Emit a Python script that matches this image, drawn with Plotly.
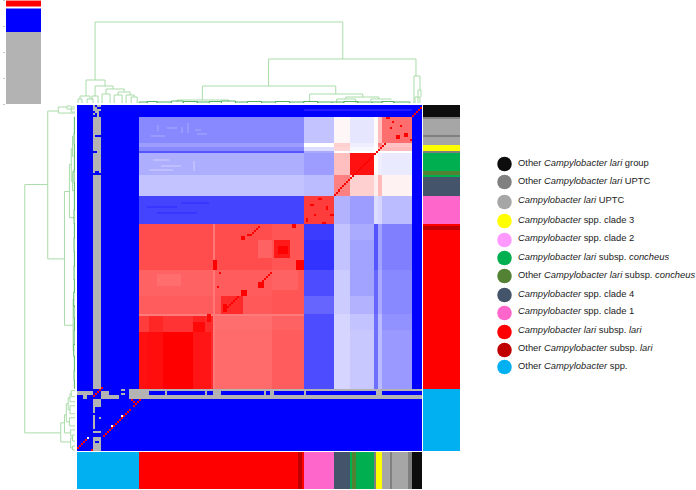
import numpy as np
import plotly.graph_objects as go

# ---------- data ----------
N = 172
NA = 0
B = 85
col_edges = [0, 8, 12, 31, 68, 97, 113, 128, 136, 148, 150, 152, 167, 172]
row_edges = [0, 6, 19, 21, 23, 24, 35, 45, 59, 67, 82, 95, 104, 112, 141, 142, 144, 146, 172]
block_values = [
    [B, NA, B, B, B, B, B, B, B, B, B, B, B],
    [B, NA, B, 92.6, 92.6, 92.6, 93.3, 94.1, 93.7, 94.05, 94.75, 95.7, B],
    [B, NA, B, 92.85, 92.85, 92.85, 94.0, 94.55, 93.8, 94.0, 95.5, 94.7, B],
    [B, NA, B, 92.6, 92.6, 92.6, 93.6, 94.5, 93.9, 94.0, 94.8, 94.8, B],
    [B, NA, B, 92.0, 92.0, 92.0, 93.0, 94.0, 94.0, 94.0, 94.0, 94.0, B],
    [B, NA, B, 93.05, 93.05, 93.05, 92.85, 94.75, 96.8, 94.0, 93.8, 93.75, B],
    [B, NA, B, 93.3, 93.3, 93.3, 93.2, 95.5, 94.55, 94.2, 94.8, 94.15, B],
    [B, NA, B, 91.8, 91.8, 91.8, 96.3, 93.1, 92.85, 93.6, 93.5, 93.2, B],
    [B, NA, B, 96.1, 96.1, 96.0, 91.7, 93.3, 93.0, 92.0, 92.9, 92.5, B],
    [B, NA, B, 96.1, 96.1, 96.0, 91.6, 93.3, 92.9, 92.0, 92.9, 92.5, B],
    [B, NA, B, 95.85, 95.9, 96.0, 91.9, 93.4, 92.9, 92.2, 93.0, 92.6, B],
    [B, NA, B, 95.9, 95.95, 96.0, 92.2, 93.4, 93.1, 92.2, 93.0, 92.6, B],
    [B, NA, B, 96.6, 95.7, 95.85, 91.9, 93.5, 93.3, 92.3, 93.2, 92.7, B],
    [B, NA, B, 96.9, 95.75, 95.9, 91.9, 93.5, 93.35, 92.3, 93.2, 92.8, B],
    [B, B, B, NA, NA, NA, NA, NA, NA, NA, NA, NA, NA],
    [NA, B, B, B, B, B, B, B, B, B, B, B, B],
    [B, B, B, NA, NA, NA, NA, NA, NA, NA, NA, NA, NA],
    [B, B, B, B, B, B, B, B, B, B, B, B, B],
]
# detail cells: first row, last row, first column, last column, value
detail_cells = [
    (10, 13, 40, 41, 92.8), (9, 14, 55, 56, 92.8), (11, 12, 45, 50, 92.8), (14, 15, 60, 65, 92.8),
    (11, 14, 52, 53, 92.8), (15, 16, 37, 44, 92.8), (12, 13, 59, 62, 92.8),
    (27, 28, 38, 46, 93.25), (30, 31, 42, 52, 93.25), (32, 33, 36, 48, 93.25), (28, 33, 58, 59, 93.25),
    (50, 51, 35, 50, 91.65), (53, 54, 40, 60, 91.65), (48, 49, 52, 66, 91.65),
    (67, 76, 90, 97, 95.85), (82, 92, 97, 110, 95.85), (84, 90, 40, 52, 95.72),
    (0, 1, 9, 10, B), (1, 2, 10, 12, B), (3, 4, 8, 9, B), (3, 6, 11, 12, B),
    (4, 5, 9, 10, B), (5, 6, 8, 10, B), (15, 16, 9, 12, B), (23, 24, 8, 10, B),
    (33, 34, 9, 11, B), (34, 35, 8, 12, B), (2, 3, 113, 167, 91.35),
    (142, 144, 12, 16, NA), (144, 146, 12, 21, NA), (141, 142, 22, 24, NA), (143, 144, 22, 24, NA),
    (141, 146, 26, 36, NA), (144, 146, 3, 5, NA),
    (142, 144, 44, 45, NA), (142, 144, 64, 65, NA), (142, 144, 68, 72, NA), (142, 144, 93, 94, NA),
    (142, 144, 96, 98, NA), (142, 144, 113, 114, NA), (142, 144, 149, 152, NA),
    (146, 150, 8, 12, NA), (150, 153, 8, 9, NA), (154, 161, 8, 9, NA), (155, 156, 11, 12, NA),
    (162, 163, 8, 12, NA), (165, 172, 8, 12, NA), (167, 168, 9, 11, B),
    (104, 113, 31, 36, 96.3), (104, 113, 36, 43, 96.55), (104, 113, 43, 58, 96.4),
    (108, 113, 58, 64, 96.9), (104, 113, 64, 68, 96.5),
    (113, 141, 31, 35, 96.8), (113, 141, 35, 43, 96.85), (113, 141, 43, 58, 97.0),
    (113, 141, 58, 67, 96.75), (113, 141, 67, 68, 96.5),
    (59, 141, 68, 69, 95.6), (104, 105, 31, 113, 95.55), (104, 108, 65, 67, 96.9),
    (67, 76, 98, 106, 96.7), (70, 74, 100, 105, 97.0), (77, 82, 109, 113, 97.0),
    (88, 91, 90, 93, 97.0), (92, 95, 82, 85, 97.0), (95, 104, 72, 83, 96.5),
    (99, 103, 73, 75, 97.0), (77, 82, 68, 70, 97.0), (83, 84, 71, 72, 97.0), (90, 91, 70, 71, 97.0),
    (65, 67, 82, 84, 97.0), (64, 65, 85, 87, 97.0), (59, 61, 107, 109, 97.0),
    (6, 7, 154, 156, 97.0), (8, 9, 157, 158, 97.0), (11, 12, 156, 157, 97.0), (10, 11, 161, 162, 97.0),
    (14, 16, 163, 165, 97.0), (15, 17, 159, 161, 97.0), (17, 18, 166, 167, 97.0),
    (46, 47, 120, 122, 97.0), (49, 50, 116, 118, 97.0), (50, 52, 124, 125, 97.0), (54, 55, 126, 128, 97.0),
    (56, 58, 114, 115, 97.0), (58, 59, 122, 124, 97.0), (54, 55, 118, 119, 97.0),
    (146, 147, 27, 28, 100), (147, 148, 28, 29, 100),
]
# runs of self comparisons: first column, first row, length
self_runs = [
    (0, 170, 6), (6, 172, 2), (8, 144, 5), (13, 164, 14), (28, 149, 4),
    (128, 44, 19), (148, 24, 6), (167, 5, 5), (73, 102, 8), (90, 89, 7), (87, 63, 4),
]
pale_cells = [(165, 5), (159, 17), (154, 22)]

group_names = ["other", "lari_other_upt", "lari_upt", "clade3", "concheus", "other_concheus",
               "clade4", "clade1", "lari", "other_lari", "other_lari_dark"]
group_colors = ["#00b0f0", "#808080", "#a6a6a6", "#ffff00", "#00b050", "#548235",
                "#44546a", "#ff66cc", "#ff0000", "#c00000", "#0d0d0d"]
bottom_groups = [0, 8, 9, 8, 7, 6, 4, 5, 4, 1, 3, 2, 1, 2, 1, 10]
bottom_sizes = [31, 79, 2, 1, 15, 8, 1, 2, 9, 1, 3, 4, 1, 8, 2, 5]
right_groups = [10, 1, 2, 1, 2, 3, 1, 4, 5, 4, 6, 7, 8, 9, 8, 0]
right_sizes = [6, 1, 8, 1, 4, 3, 1, 9, 2, 1, 9, 14, 1, 2, 79, 31]

# dendrogram merges: left leaf, right leaf, height, left child height, right child height
merge_left = [9, 4.5, 1.5, 9, 14.5, 20.5, 0.5, 5, 7.5, 12.5, 18.5, 24.5, 27,
              95.5, 62.5, 50, 116, 134, 129.5, 146.5, 168, 170, 168.5]
merge_right = [132.5, 14, 6.5, 18, 23.5, 26.5, 2.5, 8, 10.5, 16.5, 22.5, 28.5, 30,
               169, 129, 75.5, 142.5, 150.5, 139, 156.5, 171, 171.5, 171]
merge_height = [81, 23, 7, 17, 14, 11, 4, 4, 7, 9, 8, 8, 6,
                44, 17, 3, 9, 6, 4, 4, 27, 13, 6]
merge_left_child = [23, 7, 4, 7, 9, 8, 0, 0, 3, 0, 0, 0, 0,
                    17, 3, 1, 1, 4, 0, 2, 0, 0, 0]
merge_right_child = [44, 17, 4, 14, 11, 8, 0, 0, 0, 0, 0, 6, 0,
                     27, 9, 1, 6, 4, 0, 3, 13, 6, 0]
low_left = [31, 35, 40, 47, 53, 60, 66, 72, 79, 85, 92, 99, 106, 113, 120, 127, 133, 140, 147, 152, 158]
low_right = [35, 40, 47, 53, 60, 66, 72, 79, 85, 92, 99, 106, 113, 120, 127, 133, 140, 147, 152, 158, 166]
low_height = [1, 1.5, 1, 2, 1.5, 1, 1.5, 2, 1, 1.5, 1, 1.5, 1, 1.5, 1, 1, 1.5, 1, 1, 1.5, 1]

key_levels = list(range(0, 101))

legend_labels = [
    "Other <i>Campylobacter lari</i> group",
    "Other <i>Campylobacter lari</i> UPTC",
    "<i>Campylobacter lari</i> UPTC",
    "<i>Campylobacter</i> spp. clade 3",
    "<i>Campylobacter</i> spp. clade 2",
    "<i>Campylobacter lari</i> subsp. <i>concheus</i>",
    "Other <i>Campylobacter lari</i> subsp. <i>concheus</i>",
    "<i>Campylobacter</i> spp. clade 4",
    "<i>Campylobacter</i> spp. clade 1",
    "<i>Campylobacter lari</i> subsp. <i>lari</i>",
    "Other <i>Campylobacter</i> subsp. <i>lari</i>",
    "Other <i>Campylobacter</i> spp.",
]
legend_colors = ["#0d0d0d", "#808080", "#a6a6a6", "#ffff00", "#ff99ff", "#00b050",
                 "#548235", "#44546a", "#ff66cc", "#ff0000", "#c00000", "#00b0f0"]

# ---------- layout constants ----------
W, H = 696, 490
legend_marker_y = [164, 182, 202, 221, 240, 258, 276, 295, 313, 332, 350, 367]
legend_text_y = [163.5, 181.5, 201, 220.5, 239, 258, 276, 294.5, 312, 330.5, 349, 366.5]


def px_x(a, b):
    return [a / W, b / W]


def px_y(top, bottom):
    return [1 - bottom / H, 1 - top / H]


# ---------- build matrix ----------
z = np.zeros((N, N))
for i in range(len(row_edges) - 1):
    for j in range(len(col_edges) - 1):
        z[row_edges[i]:row_edges[i + 1], col_edges[j]:col_edges[j + 1]] = block_values[i][j]
for r0, r1, c0, c1, v in detail_cells:
    z[r0:r1, c0:c1] = v
for c0, r0, n in self_runs:
    for k in range(n):
        r, c = r0 - k, c0 + k
        if 0 <= r < N and 0 <= c < N:
            z[r, c] = 100
for r, c in pale_cells:
    z[r, c] = 94
cells = np.arange(N) + 0.5

scale = [[0, "#b3b3b3"], [0.69, "#b3b3b3"], [0.6901, "#0000ff"], [0.91, "#0000ff"],
         [0.94, "#ffffff"], [0.97, "#ff0000"], [1, "#ff0000"]]
key_scale = [[0, "#b3b3b3"], [0.69, "#b3b3b3"], [0.6901, "#0000ff"], [0.91, "#0000ff"],
             [0.93, "#ffffff"], [0.95, "#ff0000"], [0.99, "#ff0000"], [1, "#ff9090"]]
m = len(group_colors)
strip_scale = []
for i, c in enumerate(group_colors):
    strip_scale += [[i / m, c], [(i + 1) / m, c]]

bottom_strip = np.repeat(bottom_groups, bottom_sizes)
right_strip = np.repeat(right_groups, right_sizes)


def dendro_paths(lefts, rights, heights, lc, rc):
    pos, hgt = [], []
    for a, b, h, ha, hb in zip(lefts, rights, heights, lc, rc):
        pos += [a, a, b, b, None]
        hgt += [ha, h, h, hb, None]
    return pos, hgt


tree_pos, tree_h = dendro_paths(merge_left, merge_right, merge_height, merge_left_child, merge_right_child)
low_pos, low_h = dendro_paths(low_left, low_right, low_height, [0] * len(low_left), [0] * len(low_left))
mirror = lambda seq: [None if p is None else N - p for p in seq]

fig = go.Figure()
common = dict(showscale=False, hoverinfo="skip")
fig.add_trace(go.Heatmap(z=z, x=cells, y=cells, zmin=0, zmax=100, colorscale=scale, xaxis="x", yaxis="y", **common))
fig.add_trace(go.Heatmap(z=[bottom_strip], x=cells, y=[0.5], zmin=0, zmax=m, colorscale=strip_scale,
                         xaxis="x2", yaxis="y2", **common))
fig.add_trace(go.Heatmap(z=[[g] for g in right_strip], x=[0.5], y=cells, zmin=0, zmax=m, colorscale=strip_scale,
                         xaxis="x3", yaxis="y3", **common))
light = dict(color="#a9dca9", width=1)
dark = dict(color="#58b368", width=1)
fig.add_trace(go.Scatter(x=tree_pos, y=tree_h, mode="lines", line=light, xaxis="x4", yaxis="y4", hoverinfo="skip"))
fig.add_trace(go.Scatter(x=low_pos, y=low_h, mode="lines", line=dark, xaxis="x4", yaxis="y4", hoverinfo="skip"))
fig.add_trace(go.Scatter(x=tree_h, y=mirror(tree_pos), mode="lines", line=light, xaxis="x5", yaxis="y5", hoverinfo="skip"))
fig.add_trace(go.Scatter(x=low_h, y=mirror(low_pos), mode="lines", line=dark, xaxis="x5", yaxis="y5", hoverinfo="skip"))
fig.add_trace(go.Heatmap(z=[[v] for v in key_levels], x=[0.5], y=key_levels, zmin=0, zmax=100, colorscale=key_scale,
                         xaxis="x6", yaxis="y6", **common))
fig.add_trace(go.Scatter(x=[504.5] * len(legend_labels), y=legend_marker_y, mode="markers",
                         marker=dict(size=14.5, color=legend_colors, line=dict(width=0)),
                         xaxis="x7", yaxis="y7", hoverinfo="skip"))
fig.add_trace(go.Scatter(x=[518] * len(legend_labels), y=legend_text_y, mode="text", text=legend_labels,
                         textposition="middle right",
                         textfont=dict(family="Liberation Sans", size=9.4, color="#222222"),
                         xaxis="x7", yaxis="y7", hoverinfo="skip"))

hidden = dict(showgrid=False, zeroline=False, showticklabels=False, ticks="", showline=False)
fig.update_layout(
    width=W, height=H, margin=dict(l=0, r=0, t=0, b=0), showlegend=False,
    paper_bgcolor="white", plot_bgcolor="rgba(0,0,0,0)",
    xaxis=dict(domain=px_x(77, 422), range=[0, N], anchor="y", **hidden),
    yaxis=dict(domain=px_y(105, 451), range=[N, 0], anchor="x", **hidden),
    xaxis2=dict(domain=px_x(77, 422), range=[0, N], anchor="y2", **hidden),
    yaxis2=dict(domain=px_y(452, 489), range=[0, 1], anchor="x2", **hidden),
    xaxis3=dict(domain=px_x(423, 460), range=[0, 1], anchor="y3", **hidden),
    yaxis3=dict(domain=px_y(105, 451), range=[N, 0], anchor="x3", **hidden),
    xaxis4=dict(domain=px_x(77, 422), range=[0, N], anchor="y4", **hidden),
    yaxis4=dict(domain=px_y(0, 103), range=[0, 103], anchor="x4", **hidden),
    xaxis5=dict(domain=px_x(0, 75), range=[121, 0], anchor="y5", **hidden),
    yaxis5=dict(domain=px_y(105, 451), range=[N, 0], anchor="x5", **hidden),
    xaxis6=dict(domain=px_x(6, 41), range=[0, 1], anchor="y6", **hidden),
    yaxis6=dict(domain=px_y(0, 104), range=[0, 100], anchor="x6", showgrid=False, zeroline=False,
                showticklabels=False, ticks="outside", ticklen=2, tickcolor="#c8c8c8", tickwidth=1,
                tickvals=[0, 25, 50, 75, 100]),
    xaxis7=dict(domain=[0, 1], range=[0, W], anchor="y7", **hidden),
    yaxis7=dict(domain=[0, 1], range=[H, 0], anchor="x7", **hidden),
)
fig.write_html("out.html", config=dict(displayModeBar=False),
               post_script="document.body.style.margin='0';document.documentElement.style.overflow='hidden';")
